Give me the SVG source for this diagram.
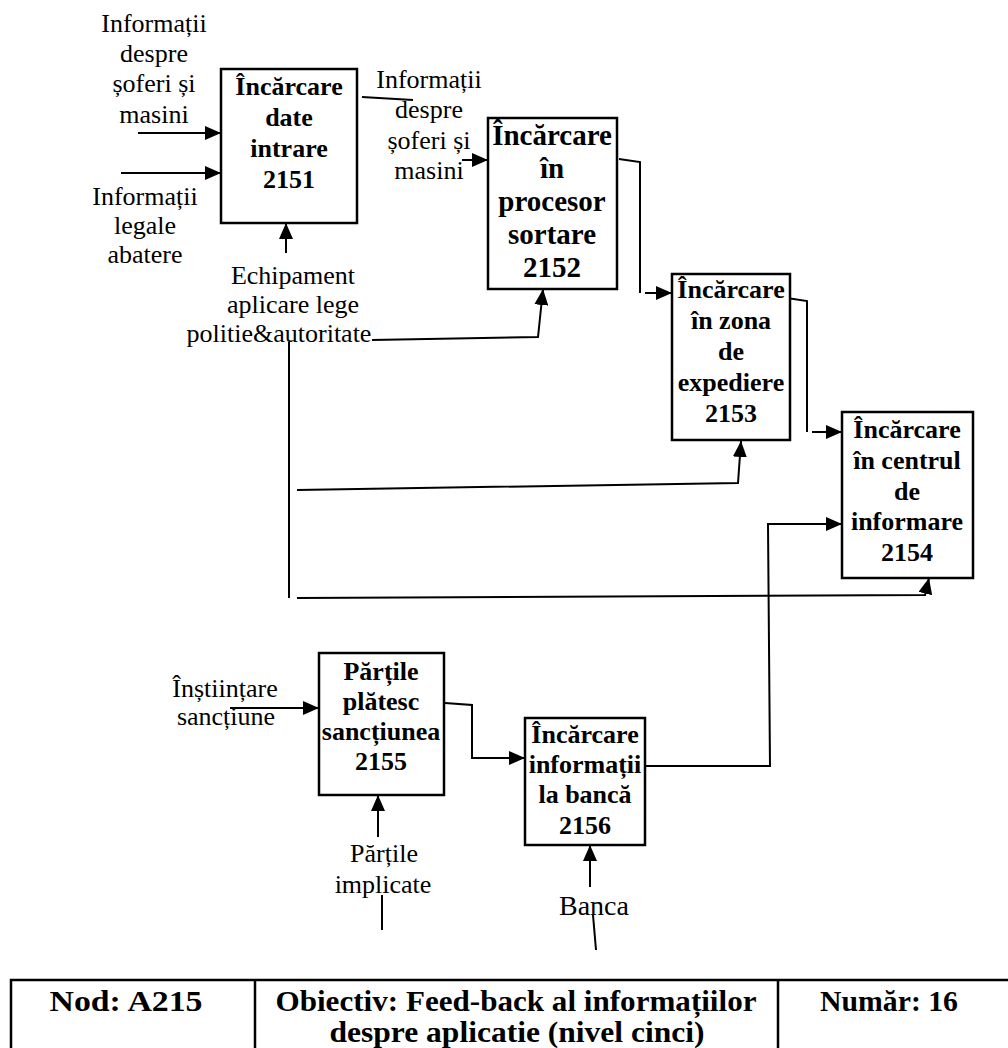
<svg xmlns="http://www.w3.org/2000/svg" width="1008" height="1048" viewBox="0 0 1008 1048">
  <style>
    .box { fill: #fff; stroke: #000; stroke-width: 2.5; }
    .t { font-family: "Liberation Serif", "Times New Roman", serif; font-size: 26px; fill: #000; text-anchor: middle; }
    .b { font-weight: bold; }
    .big { font-size: 29px; }
    .ln { fill: none; stroke: #000; stroke-width: 2; }
    .arr { fill: none; stroke: #000; stroke-width: 2; marker-end: url(#head); }
    .grid { fill: none; stroke: #000; stroke-width: 2.5; }
    .tb { font-family: "Liberation Serif", "Times New Roman", serif; font-size: 30px; font-weight: bold; text-anchor: middle; fill: #000; }
  </style>
  <defs>
    <marker id="head" markerWidth="16" markerHeight="14" refX="16" refY="7" orient="auto" markerUnits="userSpaceOnUse">
      <path d="M0,0 L16,7 L0,14 z" fill="#000"/>
    </marker>
    <clipPath id="clipMasini"><rect x="0" y="0" width="300" height="123"/></clipPath>
  </defs>

  <rect width="1008" height="1048" fill="#fff"/>

  <!-- free-standing labels -->
  <g id="lbl-info-soferi">
    <text class="t" x="154" y="32">Informații</text>
    <text class="t" x="154" y="62">despre</text>
    <text class="t" x="154" y="92">șoferi și</text>
    <text class="t" x="154" y="123" clip-path="url(#clipMasini)">masini</text>
  </g>
  <g id="lbl-info-legale">
    <text class="t" x="145" y="205">Informații</text>
    <text class="t" x="145" y="234">legale</text>
    <text class="t" x="145" y="263">abatere</text>
  </g>
  <g id="lbl-echipament">
    <text class="t" x="293" y="284">Echipament</text>
    <text class="t" x="293" y="313">aplicare lege</text>
    <text class="t" x="279" y="342">politie&amp;autoritate</text>
  </g>
  <g id="lbl-info-soferi-2">
    <text class="t" x="429" y="88">Informații</text>
    <text class="t" x="429" y="118">despre</text>
    <text class="t" x="429" y="149">șoferi și</text>
    <text class="t" x="429" y="179">masini</text>
  </g>
  <g id="lbl-instiintare">
    <text class="t" x="225" y="697">Înștiințare</text>
    <text class="t" x="226" y="725">sancțiune</text>
  </g>
  <g id="lbl-partile">
    <text class="t" x="384" y="862">Părțile</text>
    <text class="t" x="383" y="893">implicate</text>
  </g>
  <g id="lbl-banca">
    <text class="t" x="594" y="915" style="font-size:28px">Banca</text>
  </g>

  <!-- connectors -->
  <g id="connectors">
    <path class="arr" d="M138,133 L221,133"/>
    <path class="arr" d="M121,173 L221,173"/>
    <path class="arr" d="M286,253 L286,223"/>
    <path class="ln" d="M362,97 L413,100"/>
    <path class="arr" d="M462,160 L488,160"/>
    <path class="arr" d="M372,340 L538,337 L543,289"/>
    <path class="ln" d="M289,342 L289,598"/>
    <path class="arr" d="M297,490 L738,483 L741,441"/>
    <path class="arr" d="M297,598 L925,595 L929,578"/>
    <path class="ln" d="M619,159 L640,162 L640,293"/>
    <path class="arr" d="M645,293 L672,293"/>
    <path class="ln" d="M787,298 L807,301 L807,432"/>
    <path class="arr" d="M812,432 L842,432"/>
    <path class="arr" d="M645,766 L770,766 L768,524 L842,524"/>
    <path class="arr" d="M230,708 L319,708"/>
    <path class="arr" d="M445,703 L472,705 L472,758 L525,758"/>
    <path class="arr" d="M378,837 L378,795"/>
    <path class="ln" d="M382,895 L382,930"/>
    <path class="arr" d="M590,887 L590,845"/>
    <path class="ln" d="M593,915 L596,950"/>
  </g>

  <!-- activity boxes -->
  <g id="n2151">
    <rect class="box" x="221" y="69" width="136" height="154"/>
    <text class="t b" x="289" y="95">Încărcare</text>
    <text class="t b" x="289" y="126">date</text>
    <text class="t b" x="289" y="157">intrare</text>
    <text class="t b" x="289" y="188">2151</text>
  </g>
  <g id="n2152">
    <rect class="box" x="488" y="118" width="129" height="171"/>
    <text class="t b big" x="552" y="145">Încărcare</text>
    <text class="t b big" x="552" y="178">în</text>
    <text class="t b big" x="552" y="211">procesor</text>
    <text class="t b big" x="552" y="244">sortare</text>
    <text class="t b big" x="552" y="277">2152</text>
  </g>
  <g id="n2153">
    <rect class="box" x="672" y="274" width="118" height="166"/>
    <text class="t b" x="731" y="298">Încărcare</text>
    <text class="t b" x="731" y="329">în zona</text>
    <text class="t b" x="731" y="360">de</text>
    <text class="t b" x="731" y="391">expediere</text>
    <text class="t b" x="731" y="422">2153</text>
  </g>
  <g id="n2154">
    <rect class="box" x="842" y="412" width="131" height="166"/>
    <text class="t b" x="907" y="438">Încărcare</text>
    <text class="t b" x="907" y="469">în centrul</text>
    <text class="t b" x="907" y="500">de</text>
    <text class="t b" x="907" y="530">informare</text>
    <text class="t b" x="907" y="561">2154</text>
  </g>
  <g id="n2155">
    <rect class="box" x="319" y="653" width="125" height="142"/>
    <text class="t b" x="381" y="680">Părțile</text>
    <text class="t b" x="381" y="710">plătesc</text>
    <text class="t b" x="381" y="740">sancțiunea</text>
    <text class="t b" x="381" y="770">2155</text>
  </g>
  <g id="n2156">
    <rect class="box" x="525" y="718" width="120" height="127"/>
    <text class="t b" x="585" y="743">Încărcare</text>
    <text class="t b" x="585" y="773">informații</text>
    <text class="t b" x="585" y="803">la bancă</text>
    <text class="t b" x="585" y="834">2156</text>
  </g>

  <!-- title block -->
  <g id="title-block">
    <path class="grid" d="M11,1048 L11,980 L1010,980 M255,980 L255,1048 M778,980 L778,1048"/>
    <text class="tb" x="126" y="1011" textLength="153" lengthAdjust="spacingAndGlyphs">Nod: A215</text>
    <text class="tb" x="516" y="1011" textLength="481" lengthAdjust="spacingAndGlyphs">Obiectiv: Feed-back al informațiilor</text>
    <text class="tb" x="517" y="1042" textLength="375" lengthAdjust="spacingAndGlyphs">despre aplicatie (nivel cinci)</text>
    <text class="tb" x="889" y="1011" textLength="138" lengthAdjust="spacingAndGlyphs">Număr: 16</text>
  </g>
</svg>
